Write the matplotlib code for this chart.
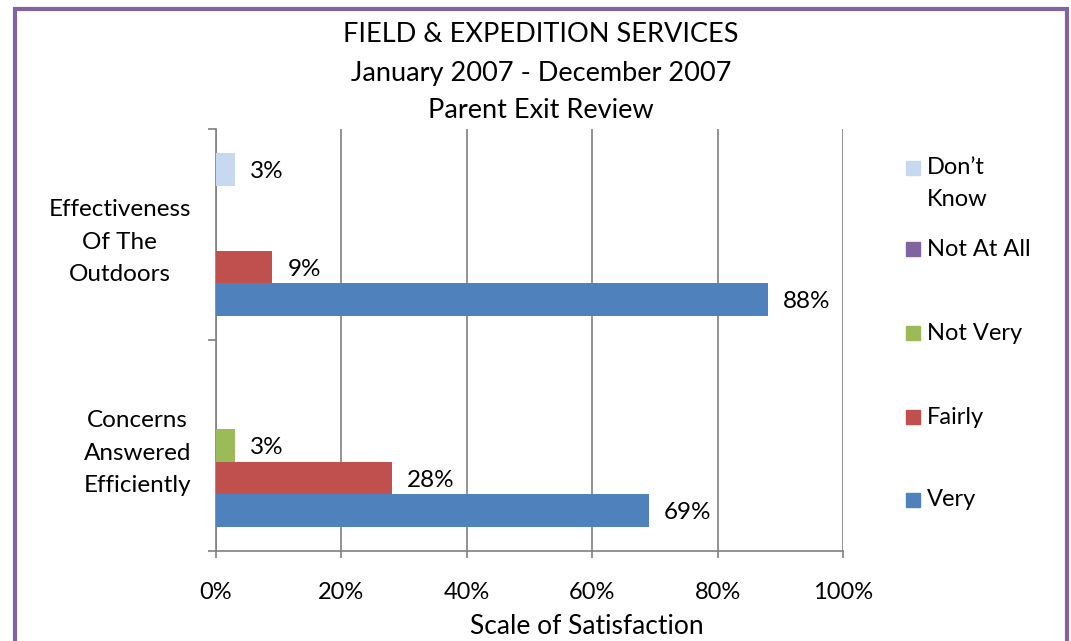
import numpy as np
import matplotlib.pyplot as plt
from matplotlib.patches import Rectangle

plt.rcParams['font.family'] = ['Lato', 'DejaVu Sans']

categories = ['Concerns\nAnswered\nEfficiently', 'Effectiveness\nOf The\nOutdoors']
series = ['Very', 'Fairly', 'Not Very', 'Not At All', 'Don\u2019t\nKnow']
colors = ['#4F81BD', '#C0504D', '#9BBB59', '#8064A2', '#C6D9F1']
# values per series, ordered as categories (Concerns, Effectiveness)
very = [69, 88]
fairly = [28, 9]
not_very = [3, 0]
not_at_all = [0, 0]
dont_know = [0, 3]
values = [very, fairly, not_very, not_at_all, dont_know]

fig = plt.figure(figsize=(10.71, 6.41), dpi=100)
ax = fig.add_axes([216 / 1071, 90 / 641, 627 / 1071, 422 / 641])

h = 0.154
y = np.arange(len(categories))
for i, (name, vals, c) in enumerate(zip(series, values, colors)):
    pos = y + (i - 2) * h
    ax.barh(pos, vals, height=h, color=c, zorder=3)
    for p, v in zip(pos, vals):
        if v > 0:
            ax.annotate(f'{v}%', (v, p), xytext=(11, -1.5), textcoords='offset points',
                        va='center', ha='left', fontsize=17.5)

ax.set_xlim(0, 100)
ax.set_ylim(-0.5, 1.5)
ax.set_xticks(np.arange(0, 101, 20))
ax.set_xticklabels([f'{t}%' for t in range(0, 101, 20)], fontsize=17)
ax.set_yticks(y)
ax.set_yticklabels(categories, fontsize=17.5, linespacing=1.68)
for lab in ax.get_yticklabels():
    lab.set_multialignment('center')
ax.set_yticks([-0.5, 0.5, 1.5], minor=True)
ax.tick_params(axis='y', which='major', length=0, pad=18)
ax.tick_params(axis='y', which='minor', length=6, color='#808080', width=1.2)
ax.tick_params(axis='x', length=5, color='#808080', width=1.2, pad=17)
ax.grid(axis='x', color='#808080', linewidth=1.2, zorder=0)
for s in ['top', 'right']:
    ax.spines[s].set_visible(False)
for s in ['left', 'bottom']:
    ax.spines[s].set_color('#808080')
    ax.spines[s].set_linewidth(1.2)
ax.set_xlabel('Scale of Satisfaction', fontsize=19, va='center')
ax.xaxis.set_label_coords((587 - 216) / 627, (551 - 626) / 422)

fig.text(541 / 1071, 1 - 73 / 641,
         'FIELD & EXPEDITION SERVICES\nJanuary 2007 - December 2007\nParent Exit Review',
         ha='center', va='center', fontsize=19.5, linespacing=1.65)

# legend, top to bottom in reverse series order
leg_y = [168, 249, 333, 417, 500]
for name, c, ly in zip(series[::-1], colors[::-1], leg_y):
    fig.add_artist(Rectangle((906 / 1071, 1 - (ly + 7) / 641), 14 / 1071, 14 / 641,
                             transform=fig.transFigure, color=c))
    for k, line in enumerate(name.split('\n')):
        fig.text(927 / 1071, 1 - (ly + k * 31) / 641, line, ha='left', va='center', fontsize=17)

# purple frame
fig.add_artist(Rectangle((15 / 1071, -0.1), 1052 / 1071, 1.1 - 9 / 641,
                         transform=fig.transFigure, fill=False, edgecolor='#8064A2', linewidth=3))

fig.savefig('out.png', dpi=100)
